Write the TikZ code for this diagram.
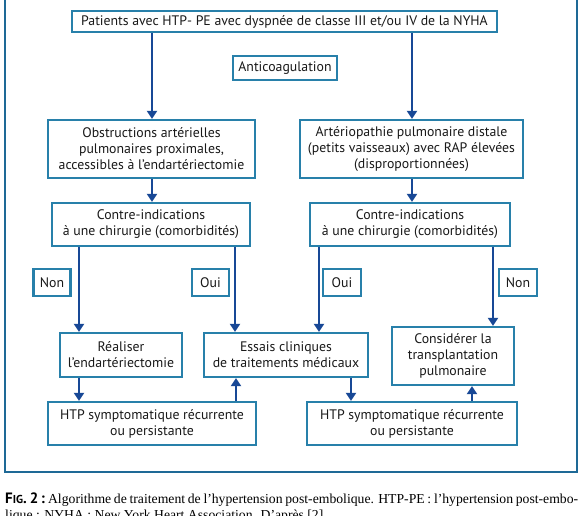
\documentclass[tikz,border=0pt]{standalone}
\usepackage{fontspec}
\setmainfont{PT Sans}
\newfontfamily\capfont{Liberation Serif}
\usetikzlibrary{arrows.meta}
\definecolor{boxc}{RGB}{40,128,170}
\definecolor{arrc}{RGB}{24,72,150}
\definecolor{framec}{RGB}{30,105,150}
\tikzset{
  bx/.style={draw=boxc, line width=2.2pt, align=center, inner sep=0pt,
    font=\fontsize{13.8}{16}\selectfont, text=black!90},
  arr/.style={draw=arrc, line width=1.8pt, -{Triangle[width=10pt,length=8pt]}},
}
\begin{document}
\begin{tikzpicture}[x=1pt,y=-1pt]
\useasboundingbox (0,0) rectangle (582,516);
\fill[white] (0,0) rectangle (582,516);
\draw[framec, line width=2pt] (5,-10) -- (5,472) -- (577,472) -- (577,-10);

\node[bx, minimum width=425pt, minimum height=21pt] (top) at (284.5,21.5) {Patients avec HTP- PE avec dyspnée de classe III et/ou IV de la NYHA};
\node[bx, minimum width=104pt, minimum height=24pt] (anti) at (285,68) {Anticoagulation};
\node[bx, minimum width=207pt, minimum height=58pt] (obs) at (151.5,149) {Obstructions artérielles\\pulmonaires proximales,\\accessibles à l’endartériectomie};
\node[bx, minimum width=223pt, minimum height=58pt] (art) at (411.5,149) {Artériopathie pulmonaire distale\\(petits vaisseaux) avec RAP élevées\\(disproportionnées)};
\node[bx, minimum width=198pt, minimum height=43pt] (ciL) at (151,224.5) {Contre-indications\\à une chirurgie (comorbidités)};
\node[bx, minimum width=200pt, minimum height=43pt] (ciR) at (410,224.5) {Contre-indications\\à une chirurgie (comorbidités)};
\node[bx, minimum width=37pt, minimum height=27pt] (nonL) at (52,282.5) {Non};
\node[bx, minimum width=37pt, minimum height=27pt] (ouiL) at (210.5,282.5) {Oui};
\node[bx, minimum width=38pt, minimum height=27pt] (ouiR) at (342,282.5) {Oui};
\node[bx, minimum width=38pt, minimum height=27pt] (nonR) at (518,282.5) {Non};
\node[bx, minimum width=122pt, minimum height=44pt] (real) at (121,355) {Réaliser\\l’endartériectomie};
\node[bx, minimum width=164pt, minimum height=44pt] (ess) at (286,355) {Essais cliniques\\de traitements médicaux};
\node[bx, minimum width=122pt, minimum height=58pt] (cons) at (453,356) {Considérer la\\transplantation\\pulmonaire};
\node[bx, minimum width=208pt, minimum height=43pt] (htpL) at (152,423.5) {HTP symptomatique récurrente\\ou persistante};
\node[bx, minimum width=210pt, minimum height=43pt] (htpR) at (412,423.5) {HTP symptomatique récurrente\\ou persistante};

\draw[arr] (top.south -| 152,0) -- (obs.north -| 152,0);
\draw[arr] (top.south -| 412,0) -- (art.north -| 412,0);
\draw[arr] (obs.south -| 152,0) -- (ciL.north -| 152,0);
\draw[arr] (art.south -| 412,0) -- (ciR.north -| 412,0);
\draw[arr] (ciL.south -| 79,0) -- (real.north -| 79,0);
\draw[arr] (ciL.south -| 235,0) -- (ess.north -| 235,0);
\draw[arr] (ciR.south -| 319,0) -- (ess.north -| 319,0);
\draw[arr] (ciR.south -| 493,0) -- (cons.north -| 493,0);
\draw[arr] (real.south -| 79,0) -- (htpL.north -| 79,0);
\draw[arr] (htpL.north -| 236,0) -- (ess.south -| 236,0);
\draw[arr] (ess.south -| 351,0) -- (htpR.north -| 351,0);
\draw[arr] (htpR.north -| 472,0) -- (cons.south -| 472,0);

\node[anchor=base west, inner sep=0pt] (cap1) at (5,503) {\makebox[573pt][s]{{\fontsize{15}{15}\selectfont\bfseries F{\fontsize{11.5}{12}\selectfont IG}. 2\,:} \capfont\fontsize{13.7}{15}\selectfont Algorithme de traitement de l’hypertension post-embolique. HTP-PE : l’hypertension post-embo-}};
\node[anchor=base west, inner sep=0pt] (cap2) at (5,519) {\capfont\fontsize{13.7}{15}\selectfont lique : NYHA : New York Heart Association. D’après [2].};
\end{tikzpicture}
\end{document}
